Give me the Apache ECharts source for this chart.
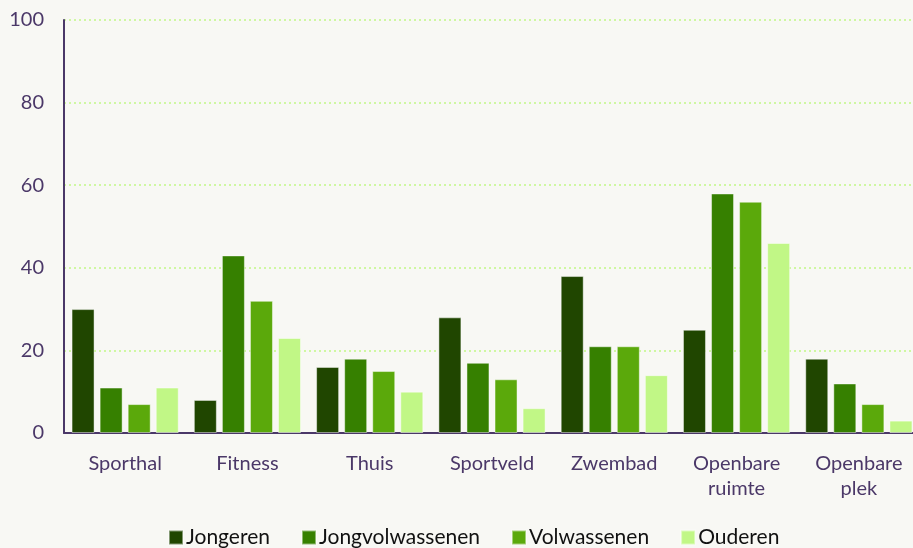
<!DOCTYPE html>
<html>
<head>
<meta charset="utf-8">
<script src="https://cdn.jsdelivr.net/npm/echarts@6/dist/echarts.min.js"></script>
<style>
  html, body { margin: 0; padding: 0; background: #f8f8f4; }
  #chart { width: 913px; height: 548px; }
</style>
</head>
<body>
<div id="chart"></div>
<script>
const categories = ['Sporthal', 'Fitness', 'Thuis', 'Sportveld', 'Zwembad', 'Openbare\nruimte', 'Openbare\nplek']
const jongeren = [30, 8, 16, 28, 38, 25, 18]
const jongvolwassenen = [11, 43, 18, 17, 21, 58, 12]
const volwassenen = [7, 32, 15, 13, 21, 56, 7]
const ouderen = [11, 23, 10, 6, 14, 46, 3]
const yTicks = [0, 20, 40, 60, 80, 100]

const axisColor = '#4b3868'
const colors = ['#204600', '#368000', '#5ba90b', '#c1f786']

function bar(name, data) {
  return {
    name: name,
    type: 'bar',
    data: data,
    barWidth: 23,
    barGap: '22%',
    itemStyle: { borderColor: 'rgba(255,255,255,0.45)', borderWidth: 1 }
  }
}

const chart = echarts.init(document.getElementById('chart'))
chart.setOption({
  backgroundColor: '#f8f8f4',
  color: colors,
  animation: false,
  textStyle: { fontFamily: 'Lato' },
  // plot runs past the right edge, last bar is cut off
  grid: { left: 64, width: 856, top: 20, bottom: 115, containLabel: false, outerBoundsMode: 'none' },
  legend: {
    top: 522,
    left: 163,
    icon: 'rect',
    itemWidth: 14,
    itemHeight: 14,
    itemGap: 31,
    textStyle: { color: '#111', fontSize: 21, fontFamily: 'Lato', padding: [0, 0, 0, -2] }
  },
  xAxis: {
    type: 'category',
    data: categories,
    axisLine: { lineStyle: { color: axisColor, width: 2 } },
    axisTick: { show: false },
    axisLabel: { color: axisColor, fontSize: 20, margin: 18, lineHeight: 25, interval: 0 }
  },
  yAxis: {
    type: 'value',
    min: yTicks[0],
    max: yTicks[yTicks.length - 1],
    interval: 20,
    axisLine: { show: true, lineStyle: { color: axisColor, width: 2 } },
    axisTick: { show: false },
    axisLabel: { color: axisColor, fontSize: 20, margin: 20 },
    splitLine: { lineStyle: { color: '#c1f786', type: [2, 3], width: 1.5 } }
  },
  series: [
    bar('Jongeren', jongeren),
    bar('Jongvolwassenen', jongvolwassenen),
    bar('Volwassenen', volwassenen),
    bar('Ouderen', ouderen)
  ]
})
</script>
</body>
</html>
